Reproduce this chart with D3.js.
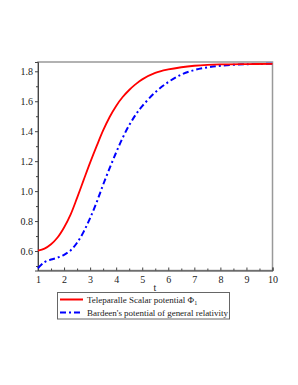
<!DOCTYPE html>
<html>
<head>
<meta charset="utf-8">
<script src="https://cdn.jsdelivr.net/npm/d3@7"></script>
<style>
  body { margin: 0; background: #fff; }
  svg text { font-family: "Liberation Serif", "Times New Roman", Times, "DejaVu Serif", serif !important; }
</style>
</head>
<body>
<div id="chart"></div>
<script>
// t values sampled along the curves
const tValues = [1, 1.25, 1.5, 1.75, 2, 2.25, 2.5, 2.75, 3, 3.25, 3.5, 3.75, 4, 4.25, 4.5, 4.75, 5, 5.5, 6, 6.5, 7, 7.5, 8, 9, 10];
// Teleparallel scalar potential Phi_1
const phiValues = [0.602, 0.616, 0.645, 0.69, 0.757, 0.843, 0.955, 1.073, 1.19, 1.30, 1.405, 1.495, 1.569, 1.628, 1.675, 1.714, 1.746, 1.789, 1.812, 1.827, 1.837, 1.843, 1.846, 1.848, 1.849];
// Bardeen's potential
const bardeenValues = [0.485, 0.526, 0.543, 0.556, 0.575, 0.604, 0.655, 0.728, 0.82, 0.925, 1.043, 1.153, 1.258, 1.356, 1.44, 1.51, 1.567, 1.66, 1.728, 1.778, 1.808, 1.826, 1.837, 1.847, 1.85];
const yTicks = [0.6, 0.8, 1.0, 1.2, 1.4, 1.6, 1.8];
const legendLabels = ["Teleparalle Scalar potential \u03A6", "Bardeen's potential of general relativity"];

function init() {
    const w = 298;
    const h = 385;
    const left = 38, right = 272.5, top = 62, bottom = 270.5;

    const svg = d3.select("#chart").append("svg")
        .attr("width", w)
        .attr("height", h);

    const xScale = d3.scaleLinear().domain([1, 10]).range([left, right]);
    const yScale = d3.scaleLinear().domain([0.47, 1.862]).range([bottom, top]);

    // frame
    svg.append("rect")
        .attr("x", left).attr("y", top)
        .attr("width", right - left).attr("height", bottom - top)
        .attr("fill", "none")
        .attr("stroke", "#999")
        .attr("stroke-width", 1.5);

    const isMajorY = d => yTicks.some(v => Math.abs(v - d) < 1e-6);

    // x axis (ticks point up into the plot)
    const xAxis = d3.axisBottom(xScale)
        .tickValues(d3.range(1, 10.01, 0.5))
        .tickSize(-3)
        .tickFormat(d => Number.isInteger(d) ? d : "");
    const gx = svg.append("g")
        .attr("transform", `translate(0,${bottom})`)
        .call(xAxis);
    gx.select(".domain").attr("stroke", "#444");
    gx.selectAll(".tick line").attr("stroke", "#444")
        .attr("y2", d => Number.isInteger(d) ? -3 : -2);
    gx.selectAll(".tick text")
        .attr("y", 5).attr("font-size", "10px").attr("fill", "#222");

    // y axis
    const yAxis = d3.axisLeft(yScale)
        .tickValues(d3.range(0.5, 1.81, 0.1))
        .tickSize(3)
        .tickFormat(d => isMajorY(d) ? d3.format(".1f")(d) : "");
    const gy = svg.append("g")
        .attr("transform", `translate(${left},0)`)
        .call(yAxis);
    gy.select(".domain").attr("stroke", "#444");
    gy.selectAll(".tick line").attr("stroke", "#444")
        .attr("x2", d => isMajorY(d) ? -3 : -2);
    gy.selectAll(".tick text")
        .attr("x", -5).attr("font-size", "10px").attr("fill", "#222");

    // axis title
    svg.append("text")
        .attr("x", 155).attr("y", 291)
        .attr("text-anchor", "middle")
        .attr("font-size", "10px")
        .attr("fill", "#222")
        .text("t");

    const line = d3.line()
        .x(d => xScale(d[0]))
        .y(d => yScale(d[1]))
        .curve(d3.curveCatmullRom.alpha(0.5));

    svg.append("path")
        .datum(tValues.map((t, i) => [t, bardeenValues[i]]))
        .attr("fill", "none")
        .attr("stroke", "#0000ff")
        .attr("stroke-width", 2)
        .attr("stroke-dasharray", "6,3,2,3")
        .attr("d", line);

    svg.append("path")
        .datum(tValues.map((t, i) => [t, phiValues[i]]))
        .attr("fill", "none")
        .attr("stroke", "#ff0000")
        .attr("stroke-width", 1.8)
        .attr("d", line);

    // legend
    const lg = svg.append("g");
    lg.append("rect")
        .attr("x", 57.5).attr("y", 292.5)
        .attr("width", 172).attr("height", 26.5)
        .attr("fill", "#fff")
        .attr("stroke", "#666")
        .attr("stroke-width", 1);
    const colors = ["#ff0000", "#0000ff"];
    const dashes = [null, "6,3,2,3"];
    legendLabels.forEach((label, i) => {
        const y = 299.5 + i * 13;
        lg.append("line")
            .attr("x1", 60).attr("x2", 83)
            .attr("y1", y).attr("y2", y)
            .attr("stroke", colors[i])
            .attr("stroke-width", 2)
            .attr("stroke-dasharray", dashes[i]);
        const t = lg.append("text")
            .attr("x", 87).attr("y", y + 3.2)
            .attr("font-size", "9px")
            .attr("fill", "#222")
            .attr("textLength", i === 0 ? null : 141)
            .text(label);
        if (i === 0) {
            t.append("tspan")
                .attr("font-size", "6px")
                .attr("dy", 2)
                .text("1");
        }
    });
}

window.onload = init;
</script>
</body>
</html>
